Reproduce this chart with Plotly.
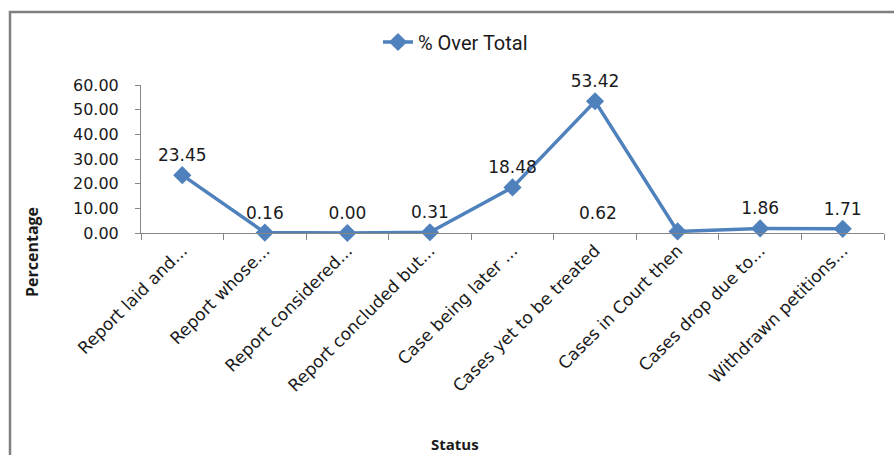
import plotly.graph_objects as go

categories = [
    "Report laid and...",
    "Report whose...",
    "Report considered...",
    "Report concluded but...",
    "Case being later ...",
    "Cases yet to be treated",
    "Cases in Court then",
    "Cases drop due to...",
    "Withdrawn petitions...",
]
values = [23.45, 0.16, 0.00, 0.31, 18.48, 53.42, 0.62, 1.86, 1.71]
y_ticks = [0, 10, 20, 30, 40, 50, 60]
left_label_index = 6

W, H = 894, 455
L, R, T, B = 141, 10, 85, 222
pw = W - L - R
ph = H - T - B

def px_x(p):
    return (p - L) / pw

def px_y(p):
    return (H - B - p) / ph

FONT = "DejaVu Sans"
BLUE = "#4F81BD"
AXIS = "#868686"
TXT = "#1a1a1a"

texts = [f"{v:.2f}" if i != left_label_index else "" for i, v in enumerate(values)]

fig = go.Figure()
fig.add_trace(go.Scatter(
    x=categories, y=values,
    mode="lines+markers+text",
    name="% Over Total",
    line=dict(color=BLUE, width=3.5),
    marker=dict(symbol="diamond", size=14, color=BLUE),
    text=texts,
    textposition="top center",
    textfont=dict(family=FONT, size=17, color=TXT),
    cliponaxis=False,
))

annotations = [
    dict(text=f"{values[left_label_index]:.2f}", x=categories[left_label_index],
         y=values[left_label_index], xref="x", yref="y", showarrow=False,
         xshift=-80, yshift=18, xanchor="center", yanchor="middle",
         font=dict(family=FONT, size=17, color=TXT)),
    dict(text="<b>Percentage</b>", xref="paper", yref="paper",
         x=px_x(32), y=px_y(252), textangle=-90, showarrow=False,
         xanchor="center", yanchor="middle",
         font=dict(family="Open Sans", size=16, color=TXT)),
    dict(text="<b>Status</b>", xref="paper", yref="paper",
         x=px_x(455), y=px_y(444), showarrow=False,
         xanchor="center", yanchor="middle",
         font=dict(family="Open Sans", size=15, color=TXT)),
]

fig.update_layout(
    width=W, height=H,
    margin=dict(l=L, r=R, t=T, b=B),
    paper_bgcolor="white", plot_bgcolor="white",
    showlegend=True,
    legend=dict(
        orientation="h", x=px_x(378), y=px_y(42), xanchor="left", yanchor="middle",
        font=dict(family="Roboto", size=20, color=TXT),
        bgcolor="rgba(0,0,0,0)",
    ),
    xaxis=dict(
        type="category",
        showline=True, linecolor=AXIS, linewidth=1,
        ticks="outside", ticklen=6, tickcolor=AXIS, tickson="boundaries",
        tickangle=-45,
        tickfont=dict(family=FONT, size=17, color=TXT),
        showgrid=False, zeroline=False,
        range=[-0.5, len(categories) - 0.5],
    ),
    yaxis=dict(
        range=[0, 60],
        tickvals=y_ticks,
        ticktext=[f"{v:.2f}" for v in y_ticks],
        showline=True, linecolor=AXIS, linewidth=1,
        ticks="outside", ticklen=5, tickcolor=AXIS,
        ticklabelstandoff=13,
        tickfont=dict(family=FONT, size=16, color=TXT),
        showgrid=False, zeroline=False,
    ),
    shapes=[dict(
        type="rect", xref="paper", yref="paper",
        x0=px_x(10), x1=px_x(905), y0=px_y(470), y1=px_y(12),
        line=dict(color="#808080", width=2.5), fillcolor="rgba(0,0,0,0)",
        layer="below",
    )],
    annotations=annotations,
)

fig.write_html("out.html")
